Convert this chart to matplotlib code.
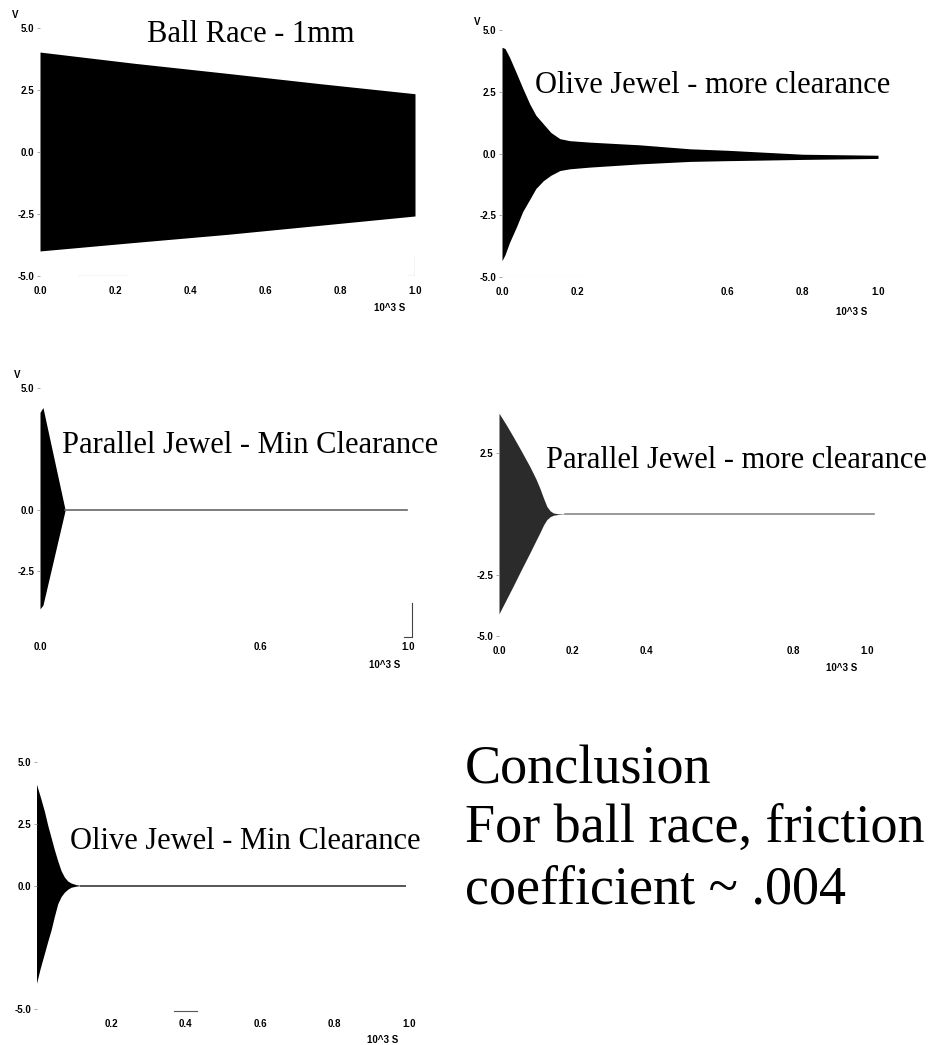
import numpy as np
import matplotlib
matplotlib.use('Agg')
import matplotlib.pyplot as plt

# Envelopes (time in 10^3 s, volts)
ball_t = [0.0, 0.25, 0.5, 0.75, 1.0]
ball_top = [4.03, 3.58, 3.17, 2.75, 2.35]
ball_bot = [-3.99, -3.65, -3.32, -2.95, -2.58]

olive_more_t = [0.0, 0.008, 0.02, 0.039, 0.055, 0.074, 0.09, 0.11, 0.13, 0.154, 0.18,
                0.234, 0.367, 0.5, 0.6, 0.8, 1.0]
olive_more_top = [4.3, 4.25, 3.9, 3.23, 2.65, 2.0, 1.55, 1.2, 0.85, 0.6, 0.52,
                  0.46, 0.35, 0.19, 0.13, -0.03, -0.07]
olive_more_bot = [-4.34, -4.1, -3.6, -2.95, -2.35, -1.85, -1.42, -1.1, -0.88, -0.69, -0.62,
                  -0.55, -0.42, -0.32, -0.29, -0.24, -0.2]

par_min_t = [0.0, 0.008, 0.068]
par_min_top = [4.0, 4.2, 0.03]
par_min_bot = [-4.05, -3.9, -0.03]
par_min_tail_t = [0.068, 0.997]
par_min_tail_v = [0.0, 0.0]

par_more_t = [0.0, 0.02, 0.039, 0.06, 0.084, 0.1, 0.111, 0.121, 0.13, 0.139, 0.148, 0.16, 0.18]
par_more_top = [4.13, 3.65, 3.16, 2.6, 1.94, 1.45, 1.06, 0.65, 0.31, 0.13, 0.04, 0.01, 0.0]
par_more_bot = [-4.09, -3.5, -2.94, -2.3, -1.59, -1.1, -0.77, -0.45, -0.23, -0.11, -0.05, -0.02, 0.0]
par_more_tail_t = [0.18, 1.02]
par_more_tail_v = [0.0, 0.0]

olive_min_t = [0.0, 0.01, 0.021, 0.03, 0.039, 0.048, 0.057, 0.066, 0.075, 0.084, 0.093, 0.105, 0.12]
olive_min_top = [4.1, 3.6, 3.02, 2.45, 1.95, 1.45, 1.0, 0.6, 0.34, 0.18, 0.1, 0.04, 0.0]
olive_min_bot = [-3.96, -3.35, -2.76, -2.27, -1.81, -1.25, -0.74, -0.45, -0.27, -0.15, -0.07, -0.03, 0.0]
olive_min_tail_t = [0.12, 0.99]
olive_min_tail_v = [0.0, 0.0]

W, H = 943, 1045
fig = plt.figure(figsize=(W / 100, H / 100), dpi=100)
fig.patch.set_facecolor('white')

serif = 'Liberation Serif'
tick_font = {'family': 'Liberation Sans', 'weight': 'bold', 'size': 7}


def panel(x0, x1, ytop, ybot, xt, yt):
    # positions in pixels of t=0, t=1, v=5, v=-5
    ax = fig.add_axes([x0 / W, 1 - ybot / H, (x1 - x0) / W, (ybot - ytop) / H])
    ax.set_xlim(0, 1)
    ax.set_ylim(-5, 5)
    for s in ax.spines.values():
        s.set_visible(False)
    ax.set_xticks(xt)
    ax.set_xticklabels(['%.1f' % v for v in xt], fontdict=tick_font)
    ax.set_yticks(yt)
    ax.set_yticklabels(['%.1f' % v for v in yt], fontdict=tick_font)
    ax.tick_params(axis='x', length=0, pad=7)
    ax.tick_params(axis='y', length=2, width=0.6, color='#999999', pad=2)
    ax.patch.set_alpha(0)
    return ax


def px_text(x, y, s, **kw):
    fig.text(x / W, 1 - y / H, s, **kw)


# Ball race
ax1 = panel(40, 415, 28, 276, [0.0, 0.2, 0.4, 0.6, 0.8, 1.0], [5.0, 2.5, 0.0, -2.5, -5.0])
ax1.fill_between(ball_t, ball_bot, ball_top, color='black', lw=0)
ax1.plot([1.0, 1.0], [5.0, 2.4], color='#cccccc', lw=0.6)
ax1.plot([1.0, 1.0, 0.98], [-4.2, -5.0, -5.0], color='#444444', lw=0.8)
ax1.plot([0.1, 0.23], [-5.0, -5.0], color='#555555', lw=0.8)

# Olive jewel, more clearance
ax2 = panel(502, 878, 30, 277, [0.0, 0.2, 0.6, 0.8, 1.0], [5.0, 2.5, 0.0, -2.5, -5.0])
ax2.fill_between(olive_more_t, olive_more_bot, olive_more_top, color='black', lw=0)
ax2.plot([1.0, 1.0], [-0.2, -2.7], color='#cccccc', lw=0.6)
ax2.plot([0.0, 0.23], [-5.0, -5.0], color='#bbbbbb', lw=0.8, ls='--')

# Parallel jewel, min clearance
ax3 = panel(40, 408, 388, 632, [0.0, 0.6, 1.0], [5.0, 0.0, -2.5])
ax3.fill_between(par_min_t, par_min_bot, par_min_top, color='black', lw=0)
ax3.plot(par_min_tail_t, par_min_tail_v, color='#666666', lw=1.2)
ax3.plot([1.01, 1.01, 0.99], [-3.8, -5.2, -5.2], color='#444444', lw=0.8, clip_on=False)

# Parallel jewel, more clearance
ax4 = panel(499, 867, 392, 636, [0.0, 0.2, 0.4, 0.8, 1.0], [2.5, -2.5, -5.0])
ax4.fill_between(par_more_t, par_more_bot, par_more_top, color='#2b2b2b', lw=0)
ax4.plot(par_more_tail_t, par_more_tail_v, color='#888888', lw=1.2, clip_on=False)

# Olive jewel, min clearance
ax5 = panel(36.5, 409, 762, 1009, [0.2, 0.4, 0.6, 0.8, 1.0], [5.0, 2.5, 0.0, -5.0])
ax5.fill_between(olive_min_t, olive_min_bot, olive_min_top, color='black', lw=0)
ax5.plot(olive_min_tail_t, olive_min_tail_v, color='#555555', lw=1.4)
ax5.plot([0.37, 0.43], [-5.1, -5.1], color='#555555', lw=0.8, clip_on=False)

# axis unit labels
small = dict(family='Liberation Sans', weight='bold', fontsize=7, ha='center', va='center')
for x, y in [(390, 308), (852, 312), (385, 665), (842, 668), (383, 1040)]:
    px_text(x, y, '10^3 S', **small)
for x, y in [(15, 15), (477, 22), (17, 375)]:
    px_text(x, y, 'V', **small)

# panel titles
title_kw = dict(family=serif, fontsize=22, ha='left', va='baseline')
px_text(147, 42, 'Ball Race - 1mm', **title_kw)
px_text(535, 93, 'Olive Jewel - more clearance', **title_kw)
px_text(62, 453, 'Parallel Jewel - Min Clearance', **title_kw)
px_text(546, 468, 'Parallel Jewel - more clearance', **title_kw)
px_text(70, 849, 'Olive Jewel - Min Clearance', **title_kw)

# conclusion
concl_kw = dict(family=serif, fontsize=39, ha='left', va='baseline')
px_text(465, 783, 'Conclusion', **concl_kw)
px_text(465, 842, 'For ball race, friction', **concl_kw)
px_text(465, 903, 'coefficient ~ .004', **concl_kw)

plt.savefig('out.png', dpi=100, facecolor='white')
